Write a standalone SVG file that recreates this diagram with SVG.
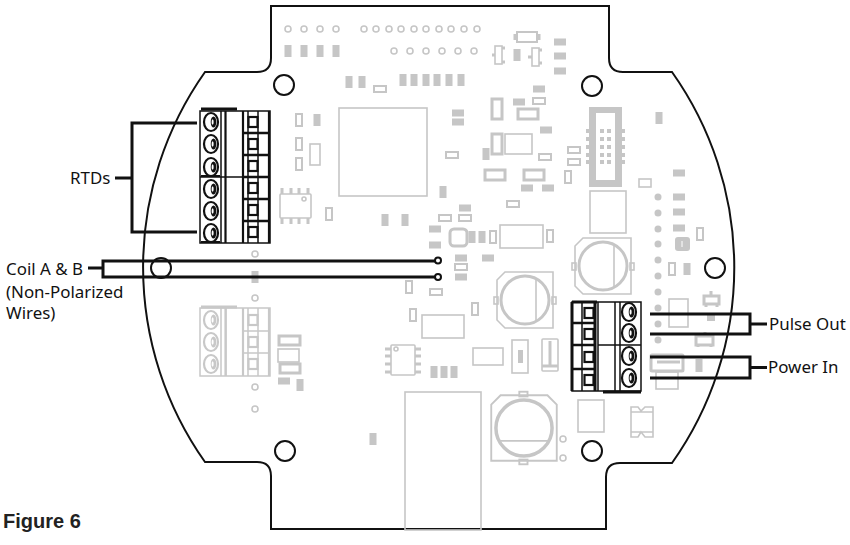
<svg xmlns="http://www.w3.org/2000/svg" xmlns:xlink="http://www.w3.org/1999/xlink" width="850" height="545" viewBox="0 0 850 545">
<style>
text{font-family:"Noto Sans","DejaVu Sans",sans-serif;font-size:16.900px;fill:#111}
.fig{font-family:"Liberation Sans",Arial,sans-serif;font-weight:700;font-size:20px;fill:#222}
.o{fill:none;stroke:#c6c6c6;stroke-width:1.6}
.o2{fill:none;stroke:#c6c6c6;stroke-width:3}
.f{fill:#c6c6c6;stroke:none}
.v{fill:#fff;stroke:#c6c6c6;stroke-width:2}
.board{fill:none;stroke:#111;stroke-width:2}
.hole{fill:none;stroke:#111;stroke-width:2}
.w{fill:none;stroke:#111;stroke-width:3}
.dot{fill:#fff;stroke:#111;stroke-width:2}
.k{color:#111}
.y{color:#c8c8c8}
.s{fill:none;stroke:currentColor;stroke-width:1.500}
.t{fill:none;stroke:currentColor;stroke-width:3}
.l{fill:none;stroke:currentColor;stroke-width:2.200}
.c{fill:currentColor}
</style>
<defs>
<g id="pt"><rect x="-3.500" y="-6" width="7" height="12" class="f"/></g>
<g id="pw"><rect x="-6" y="-3.500" width="12" height="7" class="f"/></g>
<g id="ht"><rect x="-3" y="-6" width="6" height="12" class="v"/></g>
<g id="hw"><rect x="-6" y="-3" width="12" height="6" class="v"/></g>
<g id="hl"><rect x="-10" y="-5" width="20" height="10" class="o2"/></g>
<g id="hv"><rect x="-5" y="-10" width="10" height="20" class="o2"/></g>
<circle id="hc" r="3" class="o"/>
<circle id="fc" r="3.500" class="f"/>
<g id="screw">
  <ellipse rx="7" ry="9" class="l"/>
  <ellipse cx="2.500" rx="2.800" ry="5.500" class="c"/>
  <ellipse cx="1.600" rx="1" ry="2.800" fill="#fff"/>
</g>
<rect id="latch" x="-4.500" y="-5" width="9" height="10" class="l"/>
<g id="cap">
  <path d="M-28 -20L-20 -28H28V28H-20L-28 20Z" class="o"/>
  <circle r="24" class="o2"/>
  <path d="M11 -22V22" class="o"/>
  <rect x="-31" y="-3" width="4" height="7" class="o"/>
  <rect x="27" y="-3" width="4" height="7" class="o"/>
</g>
</defs>

<g id="board">
  <path class="board" d="M271 6H609V58Q609 72 623 72H672A338 338 0 0 1 672 463H620Q606 463 606 477V529H271V476Q271 462 257 462H205A338 338 0 0 1 205 72H257Q271 72 271 58Z"/>
  <g class="hole"><circle cx="284" cy="85" r="10"/><circle cx="592" cy="86" r="10"/><circle cx="715" cy="268" r="10"/><circle cx="161" cy="268" r="10"/><circle cx="285" cy="451" r="10"/><circle cx="592" cy="451" r="10"/></g>
</g>

<g id="pcb-components">
  <use href="#hc" x="288" y="29"/><use href="#hc" x="304" y="29"/><use href="#hc" x="320" y="29"/><use href="#hc" x="336" y="29"/>
  <use href="#hc" x="364" y="29"/><use href="#hc" x="376" y="29"/><use href="#hc" x="389" y="29"/><use href="#hc" x="401" y="29"/><use href="#hc" x="414" y="29"/><use href="#hc" x="426" y="29"/><use href="#hc" x="439" y="29"/><use href="#hc" x="451" y="29"/><use href="#hc" x="464" y="29"/><use href="#hc" x="477" y="29"/>
  <use href="#hc" x="394" y="51"/><use href="#hc" x="410" y="51"/><use href="#hc" x="426" y="51"/><use href="#hc" x="442" y="51"/><use href="#hc" x="458" y="51"/><use href="#hc" x="474" y="51"/>
  <use href="#pt" x="288" y="51"/><use href="#pt" x="304" y="51"/><use href="#pt" x="320" y="51"/><use href="#pt" x="336" y="51"/>
  <rect x="517" y="32" width="20" height="10" class="v"/><path d="M515 34v6M539 34v6" class="o2"/>
  <rect x="495" y="46" width="7" height="18" class="o"/><path d="M492 55h3M502 48h3M502 62h3" class="o2"/>
  <use href="#pt" x="517" y="55"/>
  <rect x="532" y="48" width="7" height="18" class="o"/><path d="M528 57h4M539 50h3M539 63h3" class="o2"/>
  <use href="#pw" x="560" y="42"/><use href="#pw" x="560" y="56"/><use href="#pw" x="560" y="71"/>
  <use href="#pt" x="349" y="82"/><use href="#pt" x="362" y="82"/><use href="#hw" x="380" y="89"/>
  <use href="#pt" x="403" y="80"/><use href="#pt" x="414" y="80"/><use href="#pt" x="426" y="80"/><use href="#pt" x="437" y="80"/><use href="#pt" x="449" y="80"/><use href="#pt" x="461" y="80"/>
  <rect x="339" y="108" width="88" height="88" class="o"/>
  <use href="#ht" x="299" y="120"/><use href="#pt" x="317" y="120"/><use href="#ht" x="299" y="144"/><use href="#ht" x="299" y="164"/>
  <rect x="310" y="144" width="10" height="21" class="o"/>
  <use href="#pw" x="458" y="113"/><use href="#pw" x="458" y="122"/><use href="#hw" x="452" y="155"/><use href="#pt" x="486" y="154"/><use href="#pt" x="443" y="192"/>
  <use href="#hv" x="497" y="109"/><use href="#pw" x="519" y="102"/><use href="#hw" x="539" y="101"/><use href="#hl" x="528" y="114"/><use href="#pw" x="539" y="89"/><use href="#pw" x="546" y="130"/><use href="#hw" x="545" y="157"/>
  <use href="#hv" x="497" y="144"/><rect x="505" y="134" width="27" height="20" class="o"/>
  <use href="#hl" x="495" y="175"/><use href="#hl" x="534" y="175"/><use href="#pw" x="527" y="188"/><use href="#pw" x="548" y="188"/>
  <use href="#hw" x="574" y="150"/><use href="#hw" x="574" y="162"/><use href="#ht" x="568" y="177"/>
  <use href="#hw" x="513" y="204"/>

  <g id="connector">
    <path d="M589 107H622V187H589ZM596 113V180H615V113Z" fill-rule="evenodd" class="f"/>
    <path d="M589 131h-3M589 139h-3M589 147h-3M589 155h-3M589 162h-3M622 131h3M622 139h3M622 147h3M622 155h3M622 162h3" class="o2" style="stroke-width:4"/>
    <g class="f"><rect x="600" y="129" width="4" height="4"/><rect x="607" y="129" width="4" height="4"/><rect x="600" y="137" width="4" height="4"/><rect x="607" y="137" width="4" height="4"/><rect x="600" y="145" width="4" height="4"/><rect x="607" y="145" width="4" height="4"/><rect x="600" y="153" width="4" height="4"/><rect x="607" y="153" width="4" height="4"/><rect x="600" y="160" width="4" height="4"/><rect x="607" y="160" width="4" height="4"/></g>
  </g>
  <use href="#pt" x="659" y="118"/><use href="#pw" x="679" y="173"/><rect x="639" y="179" width="12" height="8" class="o"/>
  <use href="#fc" x="658" y="197"/><use href="#fc" x="658" y="213"/><use href="#fc" x="658" y="229"/><use href="#fc" x="658" y="244"/><use href="#fc" x="658" y="260"/><use href="#fc" x="658" y="276"/><use href="#fc" x="658" y="292"/><use href="#fc" x="658" y="308"/><use href="#fc" x="658" y="324"/><use href="#fc" x="658" y="340"/>
  <use href="#pw" x="679" y="197"/><use href="#pw" x="679" y="212"/><use href="#pw" x="679" y="228"/>
  <rect x="675" y="237" width="15" height="14" rx="3" class="f"/><path d="M682 241v6" stroke="#fff" fill="none"/>
  <use href="#ht" x="700" y="234"/><use href="#ht" x="672" y="269"/><use href="#pt" x="687" y="269"/>
  <rect x="590" y="191" width="36" height="42" class="o"/>
  <use href="#cap" x="603" y="266"/>
  <use href="#cap" x="525" y="300"/>
  <g transform="translate(524 428) rotate(90) scale(1.170)"><use href="#cap"/></g>
  <use href="#hc" x="563" y="439"/><use href="#hc" x="563" y="458"/>
  <rect x="405" y="392" width="76" height="138" class="o"/>
  <rect x="578" y="400" width="26" height="32" class="o"/>
  <path d="M631 407H638L641 411L645 407H653V437H645L641 432L638 437H631ZM631 412H653M631 432H653" class="o"/>
  <use href="#pt" x="373" y="439"/>

  <use href="#pt" x="385" y="220"/><use href="#pt" x="405" y="220"/><use href="#hw" x="445" y="218"/><use href="#hw" x="465" y="218"/><use href="#pw" x="465" y="208"/><use href="#hw" x="513" y="204"/><use href="#pw" x="435" y="229"/><use href="#pw" x="435" y="245"/>
  <rect x="450" y="229" width="17" height="17" rx="4" class="o2"/>
  <use href="#pt" x="472" y="237"/><use href="#pt" x="482" y="237"/><use href="#ht" x="493" y="237"/><rect x="500" y="225" width="43" height="23" class="o"/><use href="#ht" x="550" y="236"/>
  <use href="#pw" x="461" y="258"/><use href="#hw" x="461" y="267"/><use href="#pw" x="461" y="277"/><use href="#pw" x="488" y="258"/><use href="#ht" x="409" y="287"/><use href="#hw" x="436" y="292"/><use href="#ht" x="475" y="309"/><use href="#ht" x="413" y="315"/>
  <rect x="422" y="315" width="42" height="23" class="o"/>
  <g id="chip-b"><rect x="391" y="345" width="24" height="30" rx="1" class="o"/><circle cx="396" cy="349" r="2" class="o"/><path d="M385 349h6M385 356h6M385 364h6M385 372h6M415 349h6M415 356h6M415 364h6M415 372h6" class="o2"/></g>
  <use href="#pt" x="434" y="372"/><use href="#pt" x="444" y="372"/><use href="#pt" x="454" y="372"/>
  <rect x="473" y="348" width="30" height="17" class="o"/>
  <rect x="512" y="340" width="16" height="33" class="o"/><rect x="518" y="350" width="5" height="13" class="f"/>
  <rect x="542" y="339" width="16" height="32" rx="1" class="o"/><path d="M550 341V365" class="o2"/><path d="M542 366h16" class="o2"/>
  <g id="chip-a"><rect x="280" y="194" width="31" height="24" rx="1" class="o"/><circle cx="304" cy="199" r="2" class="o"/><path d="M282 188v6M291 188v6M299 188v6M308 188v6M282 218v6M291 218v6M299 218v6M308 218v6" class="o2"/></g>
  <use href="#ht" x="329" y="214"/>
  <use href="#hc" x="255" y="254"/><use href="#pt" x="255" y="277"/><use href="#hc" x="255" y="298"/><use href="#hc" x="255" y="387"/><use href="#hc" x="255" y="409"/>
  <rect x="279" y="336" width="21" height="9" class="o2"/><rect x="278" y="349" width="21" height="13" class="o"/><rect x="280" y="364" width="20" height="9" class="o2"/><use href="#pw" x="284" y="381"/><use href="#pt" x="300" y="385"/>
  <rect x="669" y="299" width="19" height="28" class="o"/>
  <path d="M704 296H719V304H704ZM711 296V291M706 304v3M717 304v3" class="o2"/><rect x="707" y="315" width="8" height="6" class="f"/>
  <path d="M696 336H713V345H696ZM705 336V332M698 345v2M711 345v2" class="o2"/>
  <rect x="651" y="355" width="32" height="16" rx="1" class="o2"/><path d="M657 362H680" class="o2"/><rect x="695.500" y="359" width="7" height="13" class="f"/>
  <rect x="656" y="372" width="22" height="17" class="o"/>
</g>

<g id="terminal-gray" class="y">
  <path d="M200 308H270V376H200ZM221 308V376M226 308V376" class="s"/>
  <path d="M225.500 308V376M243 308V376M269 308V376" class="l"/>
  <path d="M248 308V376M258 308V376M243 331H270M243 353H270" class="s"/>
  <path d="M201 307H237" class="t"/>
  <use href="#screw" x="211" y="320"/><use href="#screw" x="211" y="342"/><use href="#screw" x="211" y="364"/>
  <use href="#latch" x="253" y="320"/><use href="#latch" x="253" y="342"/><use href="#latch" x="253" y="364"/>
</g>

<g id="terminal-rtd" class="k">
  <path d="M200 111H270V243H200ZM221 111V243M248 111V243M258 111V243M200 177H270" class="s"/>
  <path d="M225.500 111V243M243 111V243M269 111V243" class="l"/>
  <path d="M243 133H270M243 155H270M243 177H270M243 199H270M243 221H270" class="t" style="stroke-width:2.500"/>
  <path d="M201 109H237" class="t"/>
  <path d="M201 176H220M201 242H220" class="t" style="stroke-width:2"/>
  <use href="#screw" x="211" y="122"/><use href="#screw" x="211" y="144"/><use href="#screw" x="211" y="167"/><use href="#screw" x="211" y="189"/><use href="#screw" x="211" y="211"/><use href="#screw" x="211" y="233"/>
  <use href="#latch" x="253" y="122"/><use href="#latch" x="253" y="144"/><use href="#latch" x="253" y="166"/><use href="#latch" x="253" y="188"/><use href="#latch" x="253" y="210"/><use href="#latch" x="253" y="232"/>
</g>

<g id="terminal-output" class="k">
  <path d="M572 302H641V391H572ZM582 302V391M598 302V391M615 302V391M620 302V391M598 345H641" class="s"/>
  <path d="M572 302V391M595 302V391M572 302H597" class="t"/>
  <path d="M572 323H596M572 345H596M572 369H596" class="t" style="stroke-width:2.500"/>
  <path d="M603 392H641" class="t"/>
  <use href="#screw" x="629" y="312"/><use href="#screw" x="629" y="333"/><use href="#screw" x="629" y="356"/><use href="#screw" x="629" y="378"/>
  <use href="#latch" x="589" y="313"/><use href="#latch" x="589" y="334"/><use href="#latch" x="589" y="357"/><use href="#latch" x="589" y="380"/>
</g>

<g id="connectors">
  <path class="w" d="M197 123H132V232H197M115 178H132"/>
  <path class="w" d="M88 268H103M438 261H103V277H438"/>
  <circle class="dot" cx="438" cy="260.500" r="3"/><circle class="dot" cx="438" cy="277" r="3"/>
  <path class="w" d="M650 314H750V334H650M750 324H767"/>
  <path class="w" d="M650 357H750V378H650M750 367.500H767"/>
</g>

<g id="labels">
  <text x="70" y="184">RTDs</text>
  <text x="6" y="275">Coil A &amp; B</text>
  <text x="6" y="298">(Non-Polarized</text>
  <text x="6" y="319">Wires)</text>
  <text x="769" y="330">Pulse Out</text>
  <text x="768" y="373">Power In</text>
  <text class="fig" x="3" y="528">Figure 6</text>
</g>
</svg>
